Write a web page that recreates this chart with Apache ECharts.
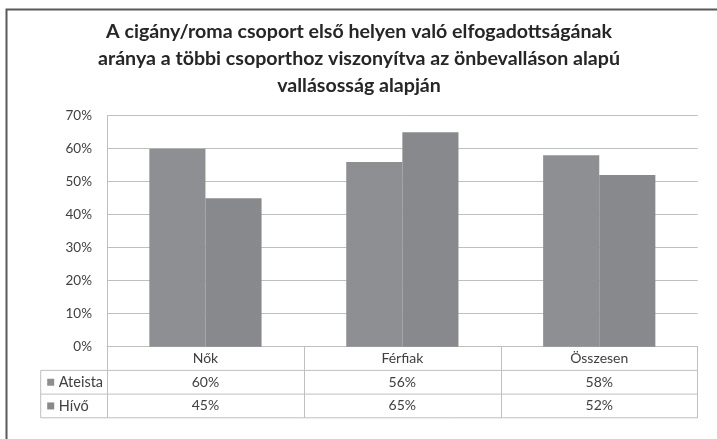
<!DOCTYPE html>
<html>
<head>
<meta charset="utf-8">
<script src="https://cdn.jsdelivr.net/npm/echarts@6/dist/echarts.min.js"></script>
<style>html,body{margin:0;padding:0;background:#fff}#c{width:717px;height:439px}</style>
</head>
<body>
<div id="c"></div>
<script>
const titleText = 'A cigány/roma csoport első helyen való elfogadottságának\naránya a többi csoporthoz viszonyítva az önbevalláson alapú\nvallásosság alapján';
const categories = ['Nők', 'Férfiak', 'Összesen'];
const seriesNames = ['Ateista', 'Hívő'];
const ateista = [60, 56, 58];
const hivo = [45, 65, 52];
const yTicks = [0, 10, 20, 30, 40, 50, 60, 70];
const colors = ['#8e8f93', '#88898d'];

const FONT = 'Lato, "Open Sans", sans-serif';
const chart = echarts.init(document.getElementById('c'));
const option = {
  animation: false,
  backgroundColor: '#fff',
  title: {
    text: titleText,
    left: 354, top: 13, textAlign: 'center',
    textStyle: { fontFamily: FONT, fontWeight: 'bold', fontSize: 19.6, lineHeight: 27, color: '#262626' }
  },
  grid: { left: 107, right: 19.3, top: 115.7, bottom: 92.3, containLabel: false },
  xAxis: {
    type: 'category', data: categories,
    axisLine: { show: true, lineStyle: { color: '#bfbfbf', width: 1 } },
    axisTick: { show: true, length: 71.3, lineStyle: { color: '#bfbfbf' } },
    axisLabel: { margin: 5, fontFamily: FONT, fontSize: 14, color: '#404040' }
  },
  yAxis: {
    type: 'value', min: 0, max: 70, interval: 10,
    axisLine: { show: true, lineStyle: { color: '#bfbfbf' } },
    axisTick: { show: false },
    splitLine: { lineStyle: { color: '#bfbfbf' } },
    axisLabel: { margin: 15, fontFamily: FONT, fontSize: 13.5, color: '#404040',
      formatter: v => yTicks.includes(v) ? v + '%' : '' }
  },
  series: [
    { name: seriesNames[0], type: 'bar', data: ateista, barGap: '0%', barCategoryGap: '43%',
      itemStyle: { color: colors[0] } },
    { name: seriesNames[1], type: 'bar', data: hivo, barGap: '0%', barCategoryGap: '43%',
      itemStyle: { color: colors[1] } }
  ]
};
chart.setOption(option);

// Data table built from chart scales
const centers = categories.map(c => chart.convertToPixel({ xAxisIndex: 0 }, c));
const half = (centers[1] - centers[0]) / 2;
const x0 = centers[0] - half, x1 = centers[centers.length - 1] + half;
const y0 = chart.convertToPixel({ yAxisIndex: 0 }, 0);
const rowH = 23.7;
const legLeft = 40.7;
const lc = '#bfbfbf';
const g = [];
// frame
g.push({ type: 'rect', shape: { x: 6.5, y: 9.5, width: 760, height: 480 }, style: { fill: 'none', stroke: '#595959', lineWidth: 2 }, silent: true, z: 100 });
const rows = [ateista, hivo];
for (let r = 0; r < rows.length; r++) {
  const top = y0 + rowH * (r + 1);
  g.push({ type: 'line', shape: { x1: legLeft, y1: top, x2: x1, y2: top }, style: { stroke: lc, lineWidth: 1 } });
  g.push({ type: 'rect', shape: { x: legLeft + 6.5, y: top + rowH / 2 - 3.5, width: 7, height: 7 }, style: { fill: colors[r] } });
  g.push({ type: 'text', x: legLeft + 18, y: top + rowH / 2, style: { text: seriesNames[r], fontFamily: FONT, fontSize: 14.5, fill: '#404040', verticalAlign: 'middle', align: 'left' } });
  for (let i = 0; i < categories.length; i++) {
    g.push({ type: 'text', x: centers[i], y: top + rowH / 2, style: { text: rows[r][i] + '%', fontFamily: FONT, fontSize: 14, fill: '#404040', verticalAlign: 'middle', align: 'center' } });
  }
}
const bottom = y0 + rowH * 3;
g.push({ type: 'line', shape: { x1: legLeft, y1: bottom, x2: x1, y2: bottom }, style: { stroke: lc, lineWidth: 1 } });
g.push({ type: 'line', shape: { x1: legLeft, y1: y0 + rowH, x2: legLeft, y2: bottom }, style: { stroke: lc, lineWidth: 1 } });
chart.setOption({ graphic: g });
</script>
</body>
</html>
